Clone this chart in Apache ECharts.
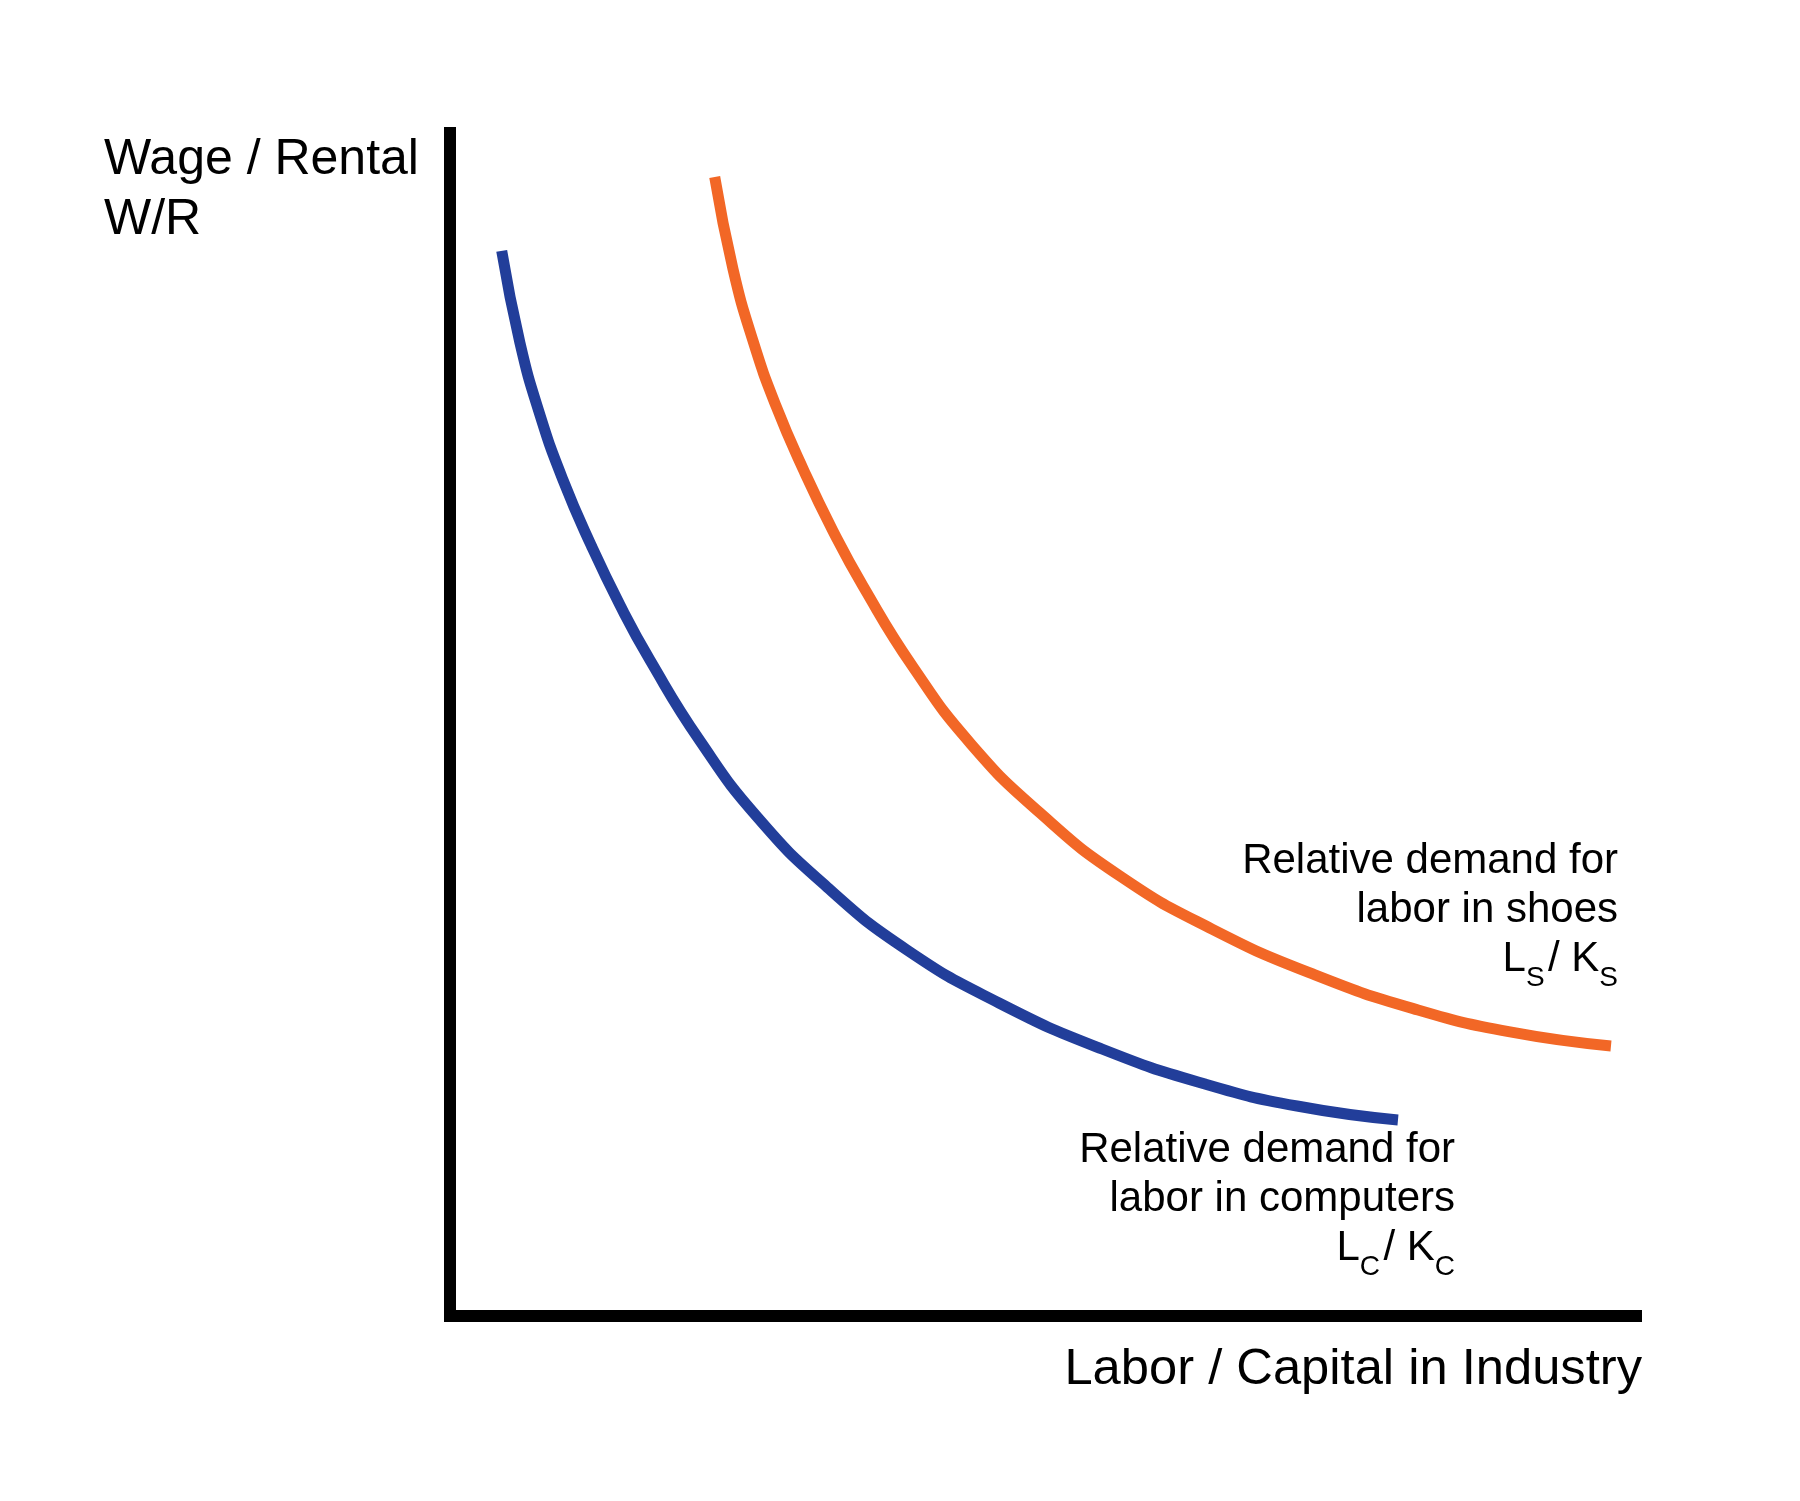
<!DOCTYPE html>
<html>
<head>
<meta charset="utf-8">
<script src="https://cdn.jsdelivr.net/npm/echarts@6/dist/echarts.min.js"></script>
<style>
html,body{margin:0;padding:0;background:#fff;}
#chart{width:1800px;height:1501px;}
</style>
</head>
<body>
<div id="chart"></div>
<script>
// Relative demand for labor in computers (L_C / K_C), axis units 0..100
const computersX = [4.36, 5.90, 7.59, 9.53, 11.89, 14.33, 16.86, 21.08, 25.97, 31.79, 38.53, 46.29, 54.97, 63.66, 71.42, 79.93];
const computersY = [90.03, 82.25, 76.16, 70.67, 65.17, 60.10, 55.45, 48.61, 42.10, 36.26, 30.94, 26.46, 22.57, 19.61, 17.75, 16.57];
// Relative demand for labor in shoes (L_S / K_S)
const shoesX = [22.32, 23.86, 25.55, 27.49, 29.85, 32.29, 34.82, 39.04, 43.93, 49.75, 56.49, 64.25, 72.93, 81.62, 89.38, 97.89];
const shoesY = [96.28, 88.50, 82.42, 76.92, 71.43, 66.36, 61.71, 54.86, 48.35, 42.52, 37.19, 32.71, 28.83, 25.87, 24.01, 22.82];

const yAxisTitle = ['Wage / Rental', 'W/R'];
const xAxisTitle = 'Labor / Capital in Industry';
const shoesLabel = ['Relative demand for', 'labor in shoes'];
const computersLabel = ['Relative demand for', 'labor in computers'];

const FONT = '"Liberation Sans", Arial, Helvetica, sans-serif';
const BLUE = '#223E9A';
const ORANGE = '#F26726';

function pairs(xs, ys) { return xs.map((x, i) => [x, ys[i]]); }

const chart = echarts.init(document.getElementById('chart'), null, {renderer: 'canvas'});

const richBase = {
  sub: {fontSize: 28, fontFamily: FONT, color: '#000', lineHeight: 10, padding: [38, 0, 0, 0]},
  gap: {fontSize: 12, fontFamily: FONT, color: '#000', lineHeight: 10}
};

chart.setOption({
  animation: false,
  backgroundColor: '#fff',
  grid: {left: 450, top: 133, width: 1186, height: 1183},
  xAxis: {
    type: 'value', min: 0, max: 100,
    axisLine: {show: true, lineStyle: {color: '#000', width: 12, cap: 'square'}},
    axisTick: {show: false}, axisLabel: {show: false}, splitLine: {show: false}
  },
  yAxis: {
    type: 'value', min: 0, max: 100,
    axisLine: {show: true, lineStyle: {color: '#000', width: 12, cap: 'square'}},
    axisTick: {show: false}, axisLabel: {show: false}, splitLine: {show: false}
  },
  series: [
    {
      name: 'computers', type: 'line', data: pairs(computersX, computersY),
      smooth: 0.5, symbol: 'none', clip: false,
      lineStyle: {color: BLUE, width: 11}
    },
    {
      name: 'shoes', type: 'line', data: pairs(shoesX, shoesY),
      smooth: 0.5, symbol: 'none', clip: false,
      lineStyle: {color: ORANGE, width: 11}
    }
  ],
  graphic: [
    {
      type: 'text', x: 104, y: 130,
      style: {
        text: yAxisTitle.join('\n'), fontSize: 50, fontFamily: FONT, fill: '#000',
        lineHeight: 60, align: 'left', verticalAlign: 'top', textAlign: 'left', textVerticalAlign: 'top'
      }
    },
    {
      type: 'text', x: 1642, y: 1340,
      style: {
        text: xAxisTitle, fontSize: 50.7, fontFamily: FONT, fill: '#000',
        lineHeight: 60, align: 'right', verticalAlign: 'top', textAlign: 'right', textVerticalAlign: 'top'
      }
    },
    {
      type: 'text', x: 1618, y: 837,
      style: {
        text: shoesLabel.join('\n') + '\nL{sub|S}{gap| }/ K{sub|S}',
        fontSize: 42, fontFamily: FONT, fill: '#000', lineHeight: 49,
        align: 'right', verticalAlign: 'top', textAlign: 'right', textVerticalAlign: 'top',
        rich: richBase
      }
    },
    {
      type: 'text', x: 1455, y: 1126,
      style: {
        text: computersLabel.join('\n') + '\nL{sub|C}{gap| }/ K{sub|C}',
        fontSize: 42, fontFamily: FONT, fill: '#000', lineHeight: 49,
        align: 'right', verticalAlign: 'top', textAlign: 'right', textVerticalAlign: 'top',
        rich: richBase
      }
    }
  ]
});
</script>
</body>
</html>
